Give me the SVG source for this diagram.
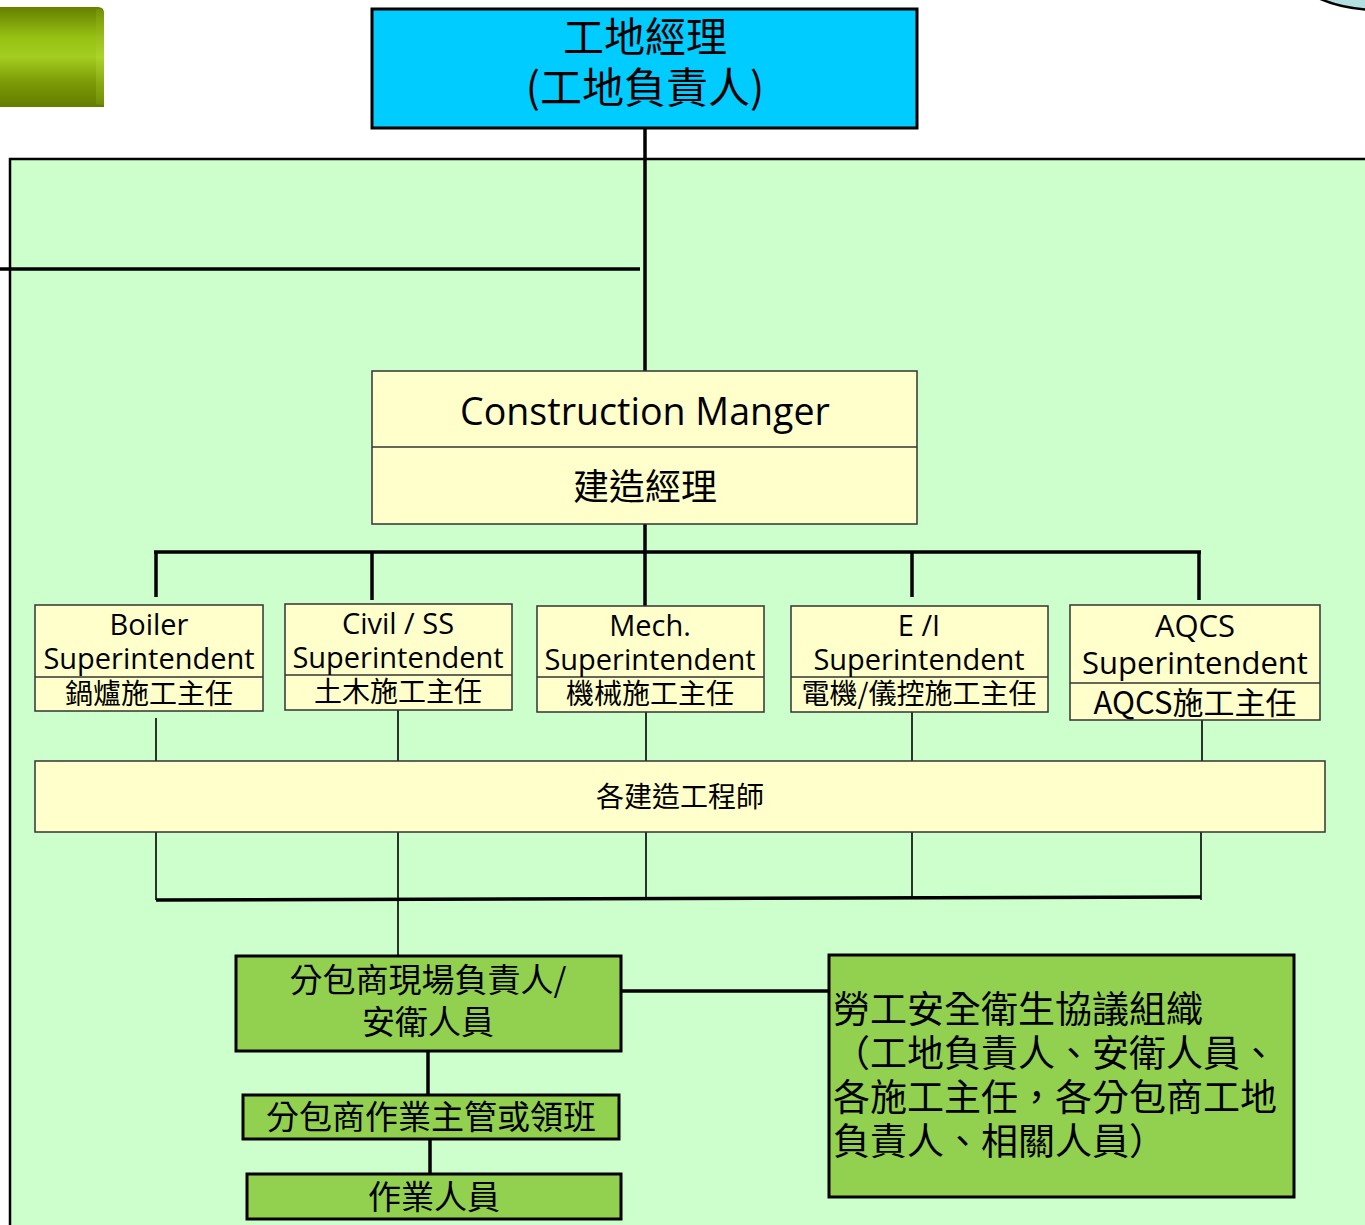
<svg xmlns="http://www.w3.org/2000/svg" width="1365" height="1225" viewBox="0 0 1365 1225" xml:lang="zh-TW" lang="zh-TW">
<defs>
<linearGradient id="tab" x1="0" y1="0" x2="0" y2="1">
<stop offset="0" stop-color="#667f00"/>
<stop offset="0.3" stop-color="#96c012"/>
<stop offset="0.5" stop-color="#a3cd20"/>
<stop offset="0.75" stop-color="#7c9b06"/>
<stop offset="1" stop-color="#627d00"/>
</linearGradient>
<linearGradient id="tabEdge" x1="0" y1="0" x2="0" y2="1">
<stop offset="0" stop-color="#7d9c0a"/>
<stop offset="0.5" stop-color="#b0d830"/>
<stop offset="1" stop-color="#7a9808"/>
</linearGradient>
<style>
.cjk{font-family:"Noto Sans CJK TC","Noto Sans CJK SC",sans-serif;fill:#000}
.en{font-family:"Open Sans","Noto Sans","Noto Sans CJK TC",sans-serif;fill:#000}
.yb{fill:#ffffcc;stroke:#333;stroke-width:1.5}
.gb{fill:#92d050;stroke:#000;stroke-width:3}
.thick{stroke:#000;stroke-width:3.5;fill:none}
.thin{stroke:#000;stroke-width:1.6;fill:none}
</style>
</defs>
<rect width="1365" height="1225" fill="#fff"/>
<g id="decor">
<path d="M-5 7 H98 Q104 7 104 13 V107 H-5 Z" fill="url(#tab)"/>
<path d="M96 9 H100 Q104 10 104 15 V105 L96 104 Z" fill="url(#tabEdge)" opacity="0.6"/>
<ellipse cx="1380" cy="-40" rx="95" ry="50" fill="#b4dfe0" stroke="#000" stroke-width="2.5"/>
</g>
<g id="area">
<rect x="10" y="159" width="1370" height="1080" fill="#ccffcc" stroke="#000" stroke-width="2.5"/>
</g>
<g id="connectors">
<line x1="0" y1="269" x2="640" y2="269" class="thick" stroke-width="3"/>
<line x1="645" y1="128" x2="645" y2="371" class="thick" stroke-width="3"/>
<line x1="645" y1="524" x2="645" y2="606" class="thick" stroke-width="3"/>
<line x1="154" y1="552" x2="1201" y2="552" class="thick" stroke-width="4"/>
<line x1="156" y1="552" x2="156" y2="597" class="thick" stroke-width="3"/>
<line x1="372" y1="552" x2="372" y2="600" class="thick" stroke-width="3"/>
<line x1="912" y1="552" x2="912" y2="597" class="thick" stroke-width="3"/>
<line x1="1199" y1="552" x2="1199" y2="600" class="thick" stroke-width="3"/>
<line x1="156" y1="718" x2="156" y2="761" class="thin"/>
<line x1="398" y1="710" x2="398" y2="761" class="thin"/>
<line x1="646" y1="712" x2="646" y2="761" class="thin"/>
<line x1="912" y1="712" x2="912" y2="761" class="thin"/>
<line x1="1202" y1="720" x2="1202" y2="761" class="thin"/>
<line x1="156" y1="832" x2="156" y2="900" class="thin"/>
<line x1="398" y1="832" x2="398" y2="957" class="thin"/>
<line x1="646" y1="832" x2="646" y2="899" class="thin"/>
<line x1="912" y1="832" x2="912" y2="899" class="thin"/>
<line x1="1201" y1="832" x2="1201" y2="900" class="thin"/>
<path d="M156 900 L1201 897" class="thick" stroke-width="2.5"/>
<line x1="428" y1="1051" x2="428" y2="1095" class="thick" stroke-width="2.5"/>
<line x1="430" y1="1139" x2="430" y2="1174" class="thick" stroke-width="2.5"/>
<line x1="621" y1="991" x2="831" y2="991" class="thick" stroke-width="2.5"/>
</g>
<g id="site-manager">
<rect x="372" y="9" width="545" height="119" fill="#00ccff" stroke="#000" stroke-width="3"/>
<text x="645" y="52" text-anchor="middle" class="cjk" font-size="41">工地經理</text>
<text x="645" y="103" text-anchor="middle" class="cjk" font-size="42">(工地負責人)</text>
</g>
<g id="construction-manager">
<rect x="372" y="371" width="545" height="153" class="yb"/>
<line x1="372" y1="447" x2="917" y2="447" stroke="#333" stroke-width="1.5"/>
<text x="645" y="425" text-anchor="middle" class="en" font-size="37.6">Construction Manger</text>
<text x="645" y="500" text-anchor="middle" class="cjk" font-size="36">建造經理</text>
</g>
<g id="boiler">
<rect x="35" y="605" width="228" height="106" class="yb"/>
<line x1="35" y1="677" x2="263" y2="677" stroke="#333" stroke-width="1.5"/>
<text x="149" y="635" text-anchor="middle" class="en" font-size="29">Boiler</text>
<text x="149" y="669" text-anchor="middle" class="en" font-size="29">Superintendent</text>
<text x="149" y="704" text-anchor="middle" class="cjk" font-size="28">鍋爐施工主任</text>
</g>
<g id="civil">
<rect x="285" y="604" width="227" height="106" class="yb"/>
<line x1="285" y1="675" x2="512" y2="675" stroke="#333" stroke-width="1.5"/>
<text x="398" y="634" text-anchor="middle" class="en" font-size="29">Civil / SS</text>
<text x="398" y="668" text-anchor="middle" class="en" font-size="29">Superintendent</text>
<text x="398" y="702" text-anchor="middle" class="cjk" font-size="28">土木施工主任</text>
</g>
<g id="mech">
<rect x="537" y="606" width="227" height="106" class="yb"/>
<line x1="537" y1="677" x2="764" y2="677" stroke="#333" stroke-width="1.5"/>
<text x="650" y="636" text-anchor="middle" class="en" font-size="29">Mech.</text>
<text x="650" y="670" text-anchor="middle" class="en" font-size="29">Superintendent</text>
<text x="650" y="704" text-anchor="middle" class="cjk" font-size="28">機械施工主任</text>
</g>
<g id="ei">
<rect x="791" y="606" width="257" height="106" class="yb"/>
<line x1="791" y1="677" x2="1048" y2="677" stroke="#333" stroke-width="1.5"/>
<text x="919" y="636" text-anchor="middle" class="en" font-size="29">E /I</text>
<text x="919" y="670" text-anchor="middle" class="en" font-size="29">Superintendent</text>
<text x="919" y="704" text-anchor="middle" class="cjk" font-size="28">電機/儀控施工主任</text>
</g>
<g id="aqcs">
<rect x="1070" y="605" width="250" height="115" class="yb"/>
<line x1="1070" y1="683" x2="1320" y2="683" stroke="#333" stroke-width="1.5"/>
<text x="1195" y="637" text-anchor="middle" class="en" font-size="31">AQCS</text>
<text x="1195" y="674" text-anchor="middle" class="en" font-size="31">Superintendent</text>
<text x="1195" y="714" text-anchor="middle" class="cjk" font-size="31">AQCS施工主任</text>
</g>
<g id="engineers">
<rect x="35" y="761" width="1290" height="71" class="yb"/>
<text x="680" y="807" text-anchor="middle" class="cjk" font-size="28">各建造工程師</text>
</g>
<g id="sub-leader">
<rect x="236" y="956" width="385" height="95" class="gb"/>
<text x="428" y="992" text-anchor="middle" class="cjk" font-size="33">分包商現場負責人/</text>
<text x="428" y="1034" text-anchor="middle" class="cjk" font-size="33">安衛人員</text>
</g>
<g id="sub-foreman">
<rect x="243" y="1095" width="376" height="44" class="gb"/>
<text x="431" y="1129" text-anchor="middle" class="cjk" font-size="33">分包商作業主管或領班</text>
</g>
<g id="workers">
<rect x="247" y="1174" width="374" height="45" class="gb"/>
<text x="434" y="1209" text-anchor="middle" class="cjk" font-size="33">作業人員</text>
</g>
<g id="safety-council">
<rect x="829" y="955" width="465" height="242" class="gb"/>
<text x="833" y="1023" class="cjk" font-size="37">勞工安全衛生協議組織</text>
<text x="833" y="1067" class="cjk" font-size="37">（工地負責人、安衛人員、</text>
<text x="833" y="1111" class="cjk" font-size="37">各施工主任，各分包商工地</text>
<text x="833" y="1155" class="cjk" font-size="37">負責人、相關人員）</text>
</g>
</svg>
